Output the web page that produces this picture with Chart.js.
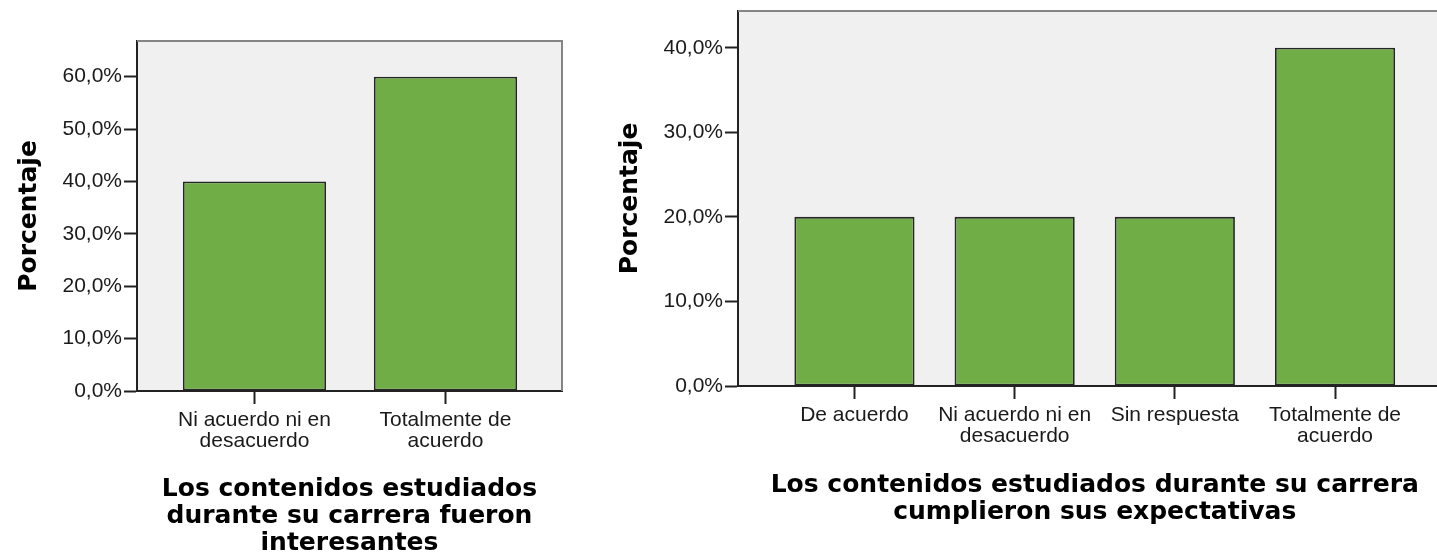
<!DOCTYPE html>
<html>
<head>
<meta charset="utf-8">
<script src="https://cdn.jsdelivr.net/npm/chart.js@4/dist/chart.umd.min.js"></script>
<style>
html, body { margin:0; padding:0; background:#fff; overflow:hidden; width:1437px; height:560px; }
#wrapL { position:absolute; left:0; top:0; width:600px; height:560px; }
#wrapR { position:absolute; left:600px; top:0; width:870px; height:560px; }
canvas { display:block; }
</style>
</head>
<body>
<div id="wrapL"><canvas id="left" width="600" height="560"></canvas></div>
<div id="wrapR"><canvas id="right" width="870" height="560"></canvas></div>
<script>
// ---- data ----
const yAxisTitle = 'Porcentaje';

const leftCategories = [['Ni acuerdo ni en', 'desacuerdo'], ['Totalmente de', 'acuerdo']];
const leftValues = [40.0, 60.0];
const leftYTicks = [0, 10, 20, 30, 40, 50, 60];
const leftXTitle = ['Los contenidos estudiados', 'durante su carrera fueron', 'interesantes'];

const rightCategories = [['De acuerdo'], ['Ni acuerdo ni en', 'desacuerdo'], ['Sin respuesta'], ['Totalmente de', 'acuerdo']];
const rightValues = [20.0, 20.0, 20.0, 40.0];
const rightYTicks = [0, 10, 20, 30, 40];
const rightXTitle = ['Los contenidos estudiados durante su carrera', 'cumplieron sus expectativas'];

// ---- helpers ----
const fmtPct = v => Number(v).toFixed(1).replace('.', ',') + '%';

Chart.defaults.font.family = 'Liberation Sans';

const plotFrame = {
  id: 'plotFrame',
  beforeDraw(chart) {
    const { ctx, chartArea: a } = chart;
    ctx.save();
    ctx.fillStyle = '#f0f0f0';
    ctx.fillRect(a.left, a.top, a.right - a.left, a.bottom - a.top);
    ctx.restore();
  },
  afterDraw(chart) {
    const { ctx, chartArea: a } = chart;
    ctx.save();
    ctx.strokeStyle = '#858585';
    ctx.lineWidth = 2;
    ctx.beginPath();
    ctx.moveTo(a.left, a.top);
    ctx.lineTo(a.right, a.top);
    ctx.lineTo(a.right, a.bottom);
    ctx.stroke();
    ctx.restore();
  }
};

function zeroPad(s) { s.paddingLeft = 0; s.paddingRight = 0; s.paddingTop = 0; s.paddingBottom = 0; }

function build(id, cats, vals, yTicks, xTitle, o) {
  return new Chart(document.getElementById(id), {
    type: 'bar',
    data: {
      datasets: [{
        data: vals.map((v, i) => ({ x: i, y: v })),
        backgroundColor: '#70ad47',
        borderColor: '#262626',
        borderWidth: 1.8,
        borderSkipped: false,
        categoryPercentage: 1,
        barPercentage: 0.75
      }]
    },
    options: {
      responsive: false,
      animation: false,
      devicePixelRatio: 1,
      layout: { padding: { left: 0, top: o.top, right: o.right, bottom: 0 } },
      plugins: { legend: { display: false }, tooltip: { enabled: false } },
      scales: {
        x: {
          type: 'linear',
          min: o.xmin, max: o.xmax,
          offset: false,
          grid: { offset: false, drawOnChartArea: false, drawTicks: true, tickLength: 13, tickColor: '#222', tickWidth: 2 },
          border: { display: true, color: '#222', width: 2 },
          afterBuildTicks: s => { s.ticks = cats.map((c, i) => ({ value: i })); },
          ticks: {
            callback: v => cats[v],
            font: { family: 'Liberation Sans', size: 21, lineHeight: 1.03 },
            color: '#1a1a1a', padding: 5, maxRotation: 0, minRotation: 0, autoSkip: false
          },
          title: {
            display: true, text: xTitle, color: '#000',
            font: { family: 'DejaVu Sans', weight: 'bold', size: 25, lineHeight: 1.08 },
            padding: { top: 0, bottom: o.xtpad }
          },
          afterFit: s => { s.height = o.xh; zeroPad(s); }
        },
        y: {
          min: 0, max: o.ymax,
          afterBuildTicks: s => { s.ticks = yTicks.map(v => ({ value: v })); },
          grid: { drawOnChartArea: false, drawTicks: true, tickLength: 13, tickColor: '#222', tickWidth: 2 },
          border: { display: true, color: '#222', width: 2 },
          ticks: {
            callback: v => fmtPct(v),
            font: { family: 'Liberation Sans', size: 21 },
            color: '#1a1a1a', padding: 2
          },
          title: {
            display: true, text: yAxisTitle, color: '#000',
            font: { family: 'DejaVu Sans', weight: 'bold', size: 25, lineHeight: 1.08 },
            padding: { top: o.ytpad, bottom: 0 }
          },
          afterFit: s => { s.width = o.yw; zeroPad(s); }
        }
      }
    },
    plugins: [plotFrame]
  });
}

build('left', leftCategories, leftValues, leftYTicks, leftXTitle,
  { top: 41, right: 38, xmin: -0.615, xmax: 1.61, ymax: 66.8, xh: 169, yw: 137, xtpad: 3, ytpad: 16 });

build('right', rightCategories, rightValues, rightYTicks, rightXTitle,
  { top: 11, right: 18.5, xmin: -0.727, xmax: 3.727, ymax: 44.34, xh: 174, yw: 138, xtpad: 34, ytpad: 17 });
</script>
</body>
</html>
